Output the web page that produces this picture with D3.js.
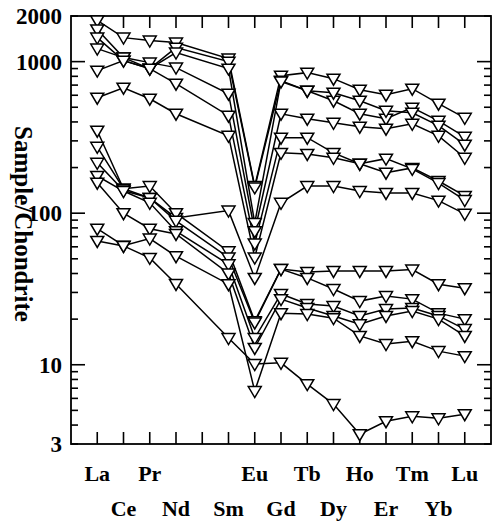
<!DOCTYPE html>
<html><head><meta charset="utf-8">
<script src="https://cdn.jsdelivr.net/npm/d3@7/dist/d3.min.js"></script>
<style>body{margin:0;background:#fff}svg{display:block}text{fill:#000}</style>
</head><body>
<script>
const elements = ["La","Ce","Pr","Nd","Pm","Sm","Eu","Gd","Tb","Dy","Ho","Er","Tm","Yb","Lu"];
const labelRow1 = ["La","Pr","Eu","Tb","Ho","Tm","Lu"];
const labelRow2 = ["Ce","Nd","Sm","Gd","Dy","Er","Yb"];
const yTickLabels = [3, 10, 100, 1000, 2000];

// upper group
const sA1 = [1870,1440,1377,1335,null,1047,151,808,846,772,653,605,663,528,426];
const sA2 = [1630,1063,899,1237,null,1000,148,749,643,552,453,420,497,407,319];
const sA3 = [1440,1015,899,1147,null,899,86,740,643,624,552,474,460,378,283];
const sA4 = [1219,1063,985,913,null,614,76,453,420,395,372,361,389,324,232];
const sB1 = [872,1015,899,715,null,440,63,315,315,250,212,185,199,163,130];
const sB2 = [578,673,569,453,null,324,51,250,246,232,212,229,196,158,122];
const sW  = [274,145,126,93,null,104,37.4,117,151,151,140,136,136,121,99];
// lower group
const sL1 = [350,145,151,100,null,56,19.4,42.8,41,41.6,41.6,41.6,42.5,34,32];
const sL2 = [215,141,126,89,null,51,19,42.8,37.4,31.6,26.3,28.4,27.1,21.9,20.0];
const sL3 = [176,140,117,76,null,46,15.0,29.3,25.2,24.4,21.0,23.3,23.7,21.0,17.2];
const sL4 = [159,100,79,73,null,40,12.9,27.1,23.7,21.0,18.5,21.0,22.6,20.0,15.5];
const sL5 = [79,61,68,52,null,34,6.7,21.9,21.6,20.3,15.5,13.7,14.3,12.3,11.4];
const sL6 = [65.6,60.8,50.7,34.1,null,15.0,10.1,10.3,7.45,5.5,3.48,4.24,4.57,4.43,4.72];

const series = [sA1,sA2,sA3,sA4,sB1,sB2,sW,sL1,sL2,sL3,sL4,sL5,sL6];

const W = 494, H = 525;
const svg = d3.select("body").append("svg").attr("width", W).attr("height", H);
const x = d3.scaleLinear().domain([-1, elements.length]).range([71, 491]);
const y = d3.scaleLog().domain([3, 2000]).range([444, 16]);
const font = "'Liberation Serif','Times New Roman',serif";

// frame
svg.append("rect").attr("x", x.range()[0]).attr("y", y.range()[1])
  .attr("width", x.range()[1]-x.range()[0]).attr("height", y.range()[0]-y.range()[1])
  .attr("fill","none").attr("stroke","#000").attr("stroke-width",1.8);

// y ticks (log) on left and right, inward
const minor = [];
[1,10,100,1000].forEach(d => { for (let k=1;k<10;k++){ const v=d*k; if (v>=3 && v<=2000) minor.push(v);} });
minor.forEach(v => {
  const major = [10,100,1000].includes(v);
  const len = major ? 14 : 7;
  const yy = y(v);
  svg.append("line").attr("x1", x.range()[0]).attr("x2", x.range()[0]+len).attr("y1", yy).attr("y2", yy)
    .attr("stroke","#000").attr("stroke-width",1.6);
  svg.append("line").attr("x1", x.range()[1]).attr("x2", x.range()[1]-len).attr("y1", yy).attr("y2", yy)
    .attr("stroke","#000").attr("stroke-width",1.6);
});
yTickLabels.forEach(v => {
  svg.append("text").attr("x", 62).attr("y", y(v)).attr("dy","0.35em")
    .attr("text-anchor","end").attr("font-family",font).attr("font-weight","bold")
    .attr("font-size",23).attr("fill","#000").text(v);
});

// x ticks bottom and top, inward
elements.forEach((e,i) => {
  svg.append("line").attr("x1", x(i)).attr("x2", x(i)).attr("y1", y.range()[0]).attr("y2", y.range()[0]-12)
    .attr("stroke","#000").attr("stroke-width",1.6);
  svg.append("line").attr("x1", x(i)).attr("x2", x(i)).attr("y1", y.range()[1]).attr("y2", y.range()[1]+12)
    .attr("stroke","#000").attr("stroke-width",1.6);
});
labelRow1.forEach(e => {
  svg.append("text").attr("x", x(elements.indexOf(e))).attr("y", 481)
    .attr("text-anchor","middle").attr("font-family",font).attr("font-weight","bold")
    .attr("font-size",22).attr("fill","#000").text(e);
});
labelRow2.forEach(e => {
  svg.append("text").attr("x", x(elements.indexOf(e))).attr("y", 516)
    .attr("text-anchor","middle").attr("font-family",font).attr("font-weight","bold")
    .attr("font-size",22).attr("fill","#000").text(e);
});

// y title
svg.append("text").attr("transform","translate(15,224) rotate(90)")
  .attr("text-anchor","middle").attr("font-family",font).attr("font-weight","bold")
  .attr("font-size",25).attr("fill","#000").text("Sample/Chondrite");

// lines
const line = d3.line().x(d => x(d.i)).y(d => y(d.v));
const pts = s => s.map((v,i) => ({i, v})).filter(d => d.v != null);
series.forEach(s => {
  svg.append("path").attr("d", line(pts(s))).attr("fill","none")
    .attr("stroke","#000").attr("stroke-width",1.5);
});
// markers
const tri = "M-6.5,-4.5L6.5,-4.5L0,6.5Z";
series.forEach(s => {
  pts(s).forEach(d => {
    svg.append("path").attr("d", tri).attr("transform", `translate(${x(d.i)},${y(d.v)})`)
      .attr("fill","#fff").attr("stroke","#000").attr("stroke-width",1.5);
  });
});
</script>
</body></html>
